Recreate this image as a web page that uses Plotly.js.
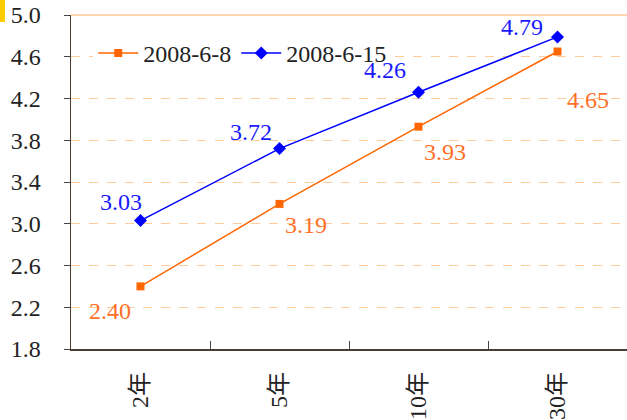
<!DOCTYPE html>
<html><head><meta charset="utf-8">
<script src="https://cdn.plot.ly/plotly-3.0.1.min.js"></script>
<style>html,body{margin:0;padding:0;background:#fff;}</style>
</head><body>
<div id="chart" style="width:627px;height:420px;"></div>
<script>
const categories = ["2年", "5年", "10年", "30年"];
const series1Name = "2008-6-8";
const series1 = [2.40, 3.19, 3.93, 4.65];
const series2Name = "2008-6-15";
const series2 = [3.03, 3.72, 4.26, 4.79];
const yTicks = [1.8, 2.2, 2.6, 3.0, 3.4, 3.8, 4.2, 4.6, 5.0];

const FONT = "'Liberation Serif', 'Noto Sans CJK SC', serif";
const FS = 24;
const ORANGE = "#FF6600";
const BLUE = "#0000FF";

const traces = [
  {x: categories, y: series1, name: series1Name, type: "scatter", mode: "lines+markers",
   line: {color: ORANGE, width: 1.5}, marker: {symbol: "square", size: 8, color: ORANGE}},
  {x: categories, y: series2, name: series2Name, type: "scatter", mode: "lines+markers",
   line: {color: BLUE, width: 1.5}, marker: {symbol: "diamond", size: 10, color: BLUE}}
];

const annotations = [];
const s1Shift = [[-31, -25], [26, -21], [26, -25], [30, -48]];
const s2Shift = [[-20, 19], [-29, 17], [-34, 22], [-36, 10]];
categories.forEach((c, i) => {
  annotations.push({x: c, y: series1[i], text: series1[i].toFixed(2), showarrow: false,
    xshift: s1Shift[i][0], yshift: s1Shift[i][1], font: {family: FONT, size: FS, color: "#FF6F28"}});
  annotations.push({x: c, y: series2[i], text: series2[i].toFixed(2), showarrow: false,
    xshift: s2Shift[i][0], yshift: s2Shift[i][1], font: {family: FONT, size: FS, color: "#1A1AFF"}});
});

const layout = {
  width: 627, height: 420,
  margin: {l: 71, r: 0, t: 15, b: 71},
  paper_bgcolor: "#fff", plot_bgcolor: "#fff",
  font: {family: FONT, size: FS, color: "#222"},
  showlegend: true,
  legend: {x: 0.04, y: 0.885, xanchor: "left", yanchor: "middle", orientation: "h", itemwidth: 40,
    bgcolor: "#fff", font: {family: FONT, size: FS, color: "#222"}, tracegroupgap: 0},
  xaxis: {type: "category", range: [-0.5, 3.5], tickson: "boundaries", ticks: "inside", ticklen: 8,
    tickcolor: "#444", showline: true, linecolor: "#4a3c30", linewidth: 1.5, showgrid: false,
    tickangle: -90, tickfont: {family: FONT, size: FS, color: "#222"}, ticklabelstandoff: 12, zeroline: false},
  yaxis: {range: [1.8, 5.0], tickmode: "array", tickvals: yTicks, ticktext: yTicks.map(v => v.toFixed(1)),
    ticks: "outside", ticklen: 6, tickcolor: "#444", showline: true, linecolor: "#4a3c30", linewidth: 1.5,
    showgrid: true, gridcolor: "#FFCC99", griddash: "dash", gridwidth: 1, zeroline: false,
    tickfont: {family: FONT, size: FS, color: "#222"}, ticklabelstandoff: 18},
  annotations: annotations,
  shapes: [
    {type: "line", xref: "paper", yref: "paper", x0: 0, x1: 1, y0: 1, y1: 1, line: {color: "#FFC896", width: 1.5}},
    {type: "rect", xref: "paper", yref: "paper", x0: -71/556, x1: -66/556, y0: 1 + 15/334, y1: 1 - 7/334,
     fillcolor: "#FFCC00", line: {width: 0}}
  ]
};

Plotly.newPlot("chart", traces, layout, {displayModeBar: false, staticPlot: true});
</script>
</body></html>
